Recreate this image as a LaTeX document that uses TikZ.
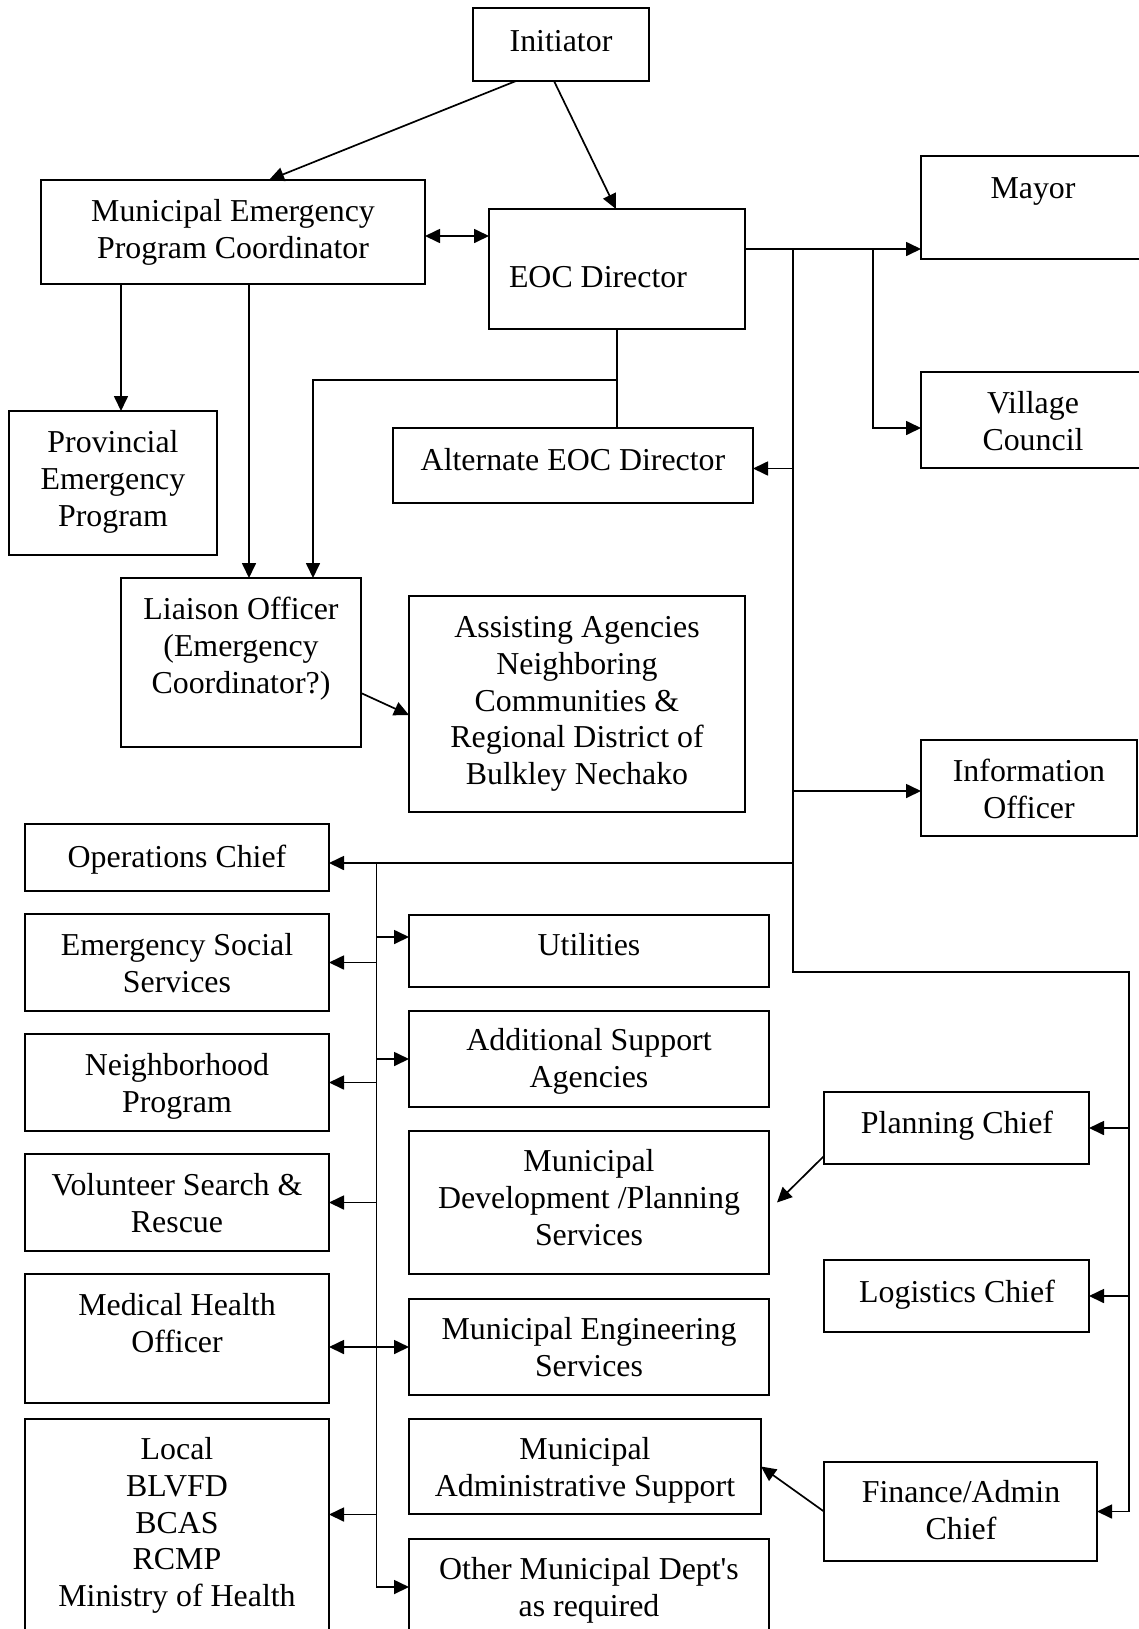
\documentclass[tikz,border=0pt]{standalone}
\usepackage{fontspec}
\setmainfont{Liberation Serif}
\usetikzlibrary{arrows.meta}

% box given by its corners (x1,y1) and (x2,y2), y growing downwards
\newcommand\orgbox[5]{%
  \pgfmathsetmacro\bw{#4-#2}\pgfmathsetmacro\bh{#5-#3}%
  \node[box, minimum width=\bw bp, minimum height=\bh bp] (#1) at ({(#2+#4)/2},{(#3+#5)/2}) {};}
% label centred on x, first baseline at y
\newcommand\orgtext[4]{%
  \node[lbl, anchor=north] (#1) at (#2,{#3-23.7}) {\strut #4};}

\begin{document}
\begin{tikzpicture}[x=1bp,y=-1bp,
  box/.style={draw, line width=1.7bp, rectangle, inner sep=0pt, outer sep=0pt},
  lbl/.style={inner sep=0pt, outer sep=0pt, align=center, font=\fontsize{32}{36.8}\selectfont},
  wire/.style={line width=1.7bp},
  arr/.style={wire, -{Triangle[length=15bp,width=14bp]}},
  darr/.style={wire, {Triangle[length=15bp,width=14bp]}-{Triangle[length=15bp,width=14bp]}},
]
\useasboundingbox[fill=white] (0,0) rectangle (1138,1629);

% ---- boxes
\orgbox{init}{473}{8}{649}{81}
\orgbox{mepc}{41}{180}{425}{284}
\orgbox{eoc}{489}{209}{745}{329}
\orgbox{mayor}{921}{156}{1150}{259}
\orgbox{council}{921}{372}{1150}{468}
\orgbox{alt}{393}{428}{753}{503}
\orgbox{pep}{9}{411}{217}{555}
\orgbox{liaison}{121}{578}{361}{747}
\orgbox{assist}{409}{596}{745}{812}
\orgbox{info}{921}{740}{1137}{836}
\orgbox{ops}{25}{824}{329}{891}
\orgbox{ess}{25}{914}{329}{1011}
\orgbox{util}{409}{915}{769}{987}
\orgbox{nbhd}{25}{1034}{329}{1131}
\orgbox{addl}{409}{1011}{769}{1107}
\orgbox{vsr}{25}{1154}{329}{1251}
\orgbox{mdps}{409}{1131}{769}{1274}
\orgbox{mho}{25}{1274}{329}{1403}
\orgbox{mes}{409}{1299}{769}{1395}
\orgbox{local}{25}{1419}{329}{1640}
\orgbox{mas}{409}{1419}{761}{1514}
\orgbox{other}{409}{1539}{769}{1635}
\orgbox{plan}{824}{1092}{1089}{1164}
\orgbox{logi}{824}{1260}{1089}{1332}
\orgbox{fin}{824}{1462}{1097}{1561}

% ---- labels
\orgtext{init-t}{561}{50}{Initiator}
\orgtext{mepc-t}{233}{220}{Municipal Emergency\\Program Coordinator}
\node[lbl, anchor=north west] (eoc-t) at (509,{286-23.7}) {\strut EOC Director};
\orgtext{mayor-t}{1033}{197}{Mayor}
\orgtext{council-t}{1033}{412}{Village\\Council}
\orgtext{alt-t}{573}{469}{Alternate EOC Director}
\orgtext{pep-t}{113}{451}{Provincial\\Emergency\\Program}
\orgtext{liaison-t}{241}{618}{Liaison Officer\\(Emergency\\Coordinator?)}
\orgtext{assist-t}{577}{636}{Assisting Agencies\\Neighboring\\Communities \&\\Regional District of\\Bulkley Nechako}
\orgtext{info-t}{1029}{780}{Information\\Officer}
\orgtext{ops-t}{177}{866}{Operations Chief}
\orgtext{ess-t}{177}{954}{Emergency Social\\Services}
\orgtext{util-t}{589}{954}{Utilities}
\orgtext{nbhd-t}{177}{1074}{Neighborhood\\Program}
\orgtext{addl-t}{589}{1049}{Additional Support\\Agencies}
\orgtext{vsr-t}{177}{1194}{Volunteer Search \&\\Rescue}
\orgtext{mdps-t}{589}{1170}{Municipal\\Development /Planning\\Services}
\orgtext{mho-t}{177}{1314}{Medical Health\\Officer}
\orgtext{mes-t}{589}{1338}{Municipal Engineering\\Services}
\orgtext{local-t}{177}{1458}{Local\\BLVFD\\BCAS\\RCMP\\Ministry of Health}
\orgtext{mas-t}{585}{1458}{Municipal\\Administrative Support}
\orgtext{other-t}{589}{1578}{Other Municipal Dept\textquotesingle s\\as required}
\orgtext{plan-t}{957}{1132}{Planning Chief}
\orgtext{logi-t}{957}{1301}{Logistics Chief}
\orgtext{fin-t}{961}{1501}{Finance/Admin\\Chief}

% ---- bus points
\coordinate (busTop) at (793,249);
\coordinate (councilTap) at (873,249);
\coordinate (busBend) at (793,972);
\coordinate (rbusTop) at (1129,972);
\coordinate (lbusTop) at (376.5,863);
\coordinate (cLink) at (457,236);
\coordinate (altJoin) at (617,380);

% ---- connectors, upper part
\draw[arr] ([xshift=-45bp]init.south) -- ([xshift=36bp]mepc.north);
\draw[arr] ([xshift=-7bp]init.south) -- ([xshift=-1bp]eoc.north);
\draw[darr] (mepc.east |- cLink) -- (eoc.west |- cLink);
\draw[arr] ([xshift=-112bp]mepc.south) -- ([xshift=-112bp]mepc.south |- pep.north);
\draw[arr] ([xshift=16bp]mepc.south) -- ([xshift=16bp]mepc.south |- liaison.north);
\draw[wire] (eoc.south) -- (eoc.south |- alt.north);
\draw[arr] (altJoin) -| ([xshift=72bp]liaison.north);
\draw[arr] ([yshift=-30.5bp]liaison.east) -- ([yshift=-11bp]assist.west);

% ---- EOC Director's main bus, running on to the Finance/Admin Chief
\draw[arr] (eoc.east |- busTop) -- (mayor.west |- busTop);
\draw[arr] (councilTap) |- ([yshift=-8bp]council.west);
\draw[arr] (busTop) -- (busBend) -- (rbusTop) |- (fin.east);
\coordinate (altIn) at ([yshift=-3bp]alt.east);
\draw[arr] (busTop |- altIn) -- (altIn);
\coordinate (infoIn) at ([yshift=-3bp]info.west);
\draw[arr] (busTop |- infoIn) -- (infoIn);
\draw[arr] (busTop |- lbusTop) -- (ops.east |- lbusTop);

% ---- section chiefs on the right
\draw[arr] (rbusTop |- plan.east) -- (plan.east);
\draw[arr] (rbusTop |- logi.east) -- (logi.east);
\draw[arr] ([yshift=8bp]plan.south west) -- ([xshift=8bp]mdps.east);
\draw[arr] (fin.west) -- (mas.east);

% ---- operations bus
\draw[arr] (lbusTop) |- (other.west);
\draw[arr] (lbusTop |- ess.east) -- (ess.east);
\coordinate (utilIn) at ([yshift=14bp]util.west);
\draw[arr] (lbusTop |- utilIn) -- (utilIn);
\draw[arr] (lbusTop |- nbhd.east) -- (nbhd.east);
\draw[arr] (lbusTop |- addl.west) -- (addl.west);
\draw[arr] (lbusTop |- vsr.east) -- (vsr.east);
\draw[darr] (mho.east |- mes.west) -- (mes.west);
\coordinate (localIn) at ([yshift=15bp]local.east);
\draw[arr] (lbusTop |- localIn) -- (localIn);
\end{tikzpicture}
\end{document}
